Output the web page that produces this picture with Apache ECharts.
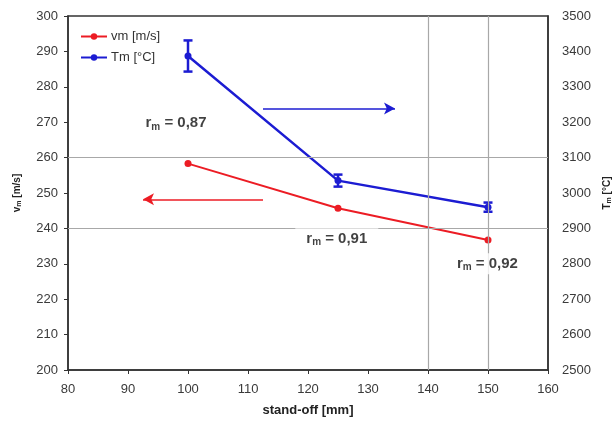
<!DOCTYPE html>
<html><head><meta charset="utf-8">
<script src="https://cdn.jsdelivr.net/npm/echarts@6/dist/echarts.min.js"></script>
<style>html,body{margin:0;padding:0;background:#fff}#c{width:616px;height:430px}</style>
</head><body><div id="c"></div>
<script>
const standOff = [100, 125, 150];
const vmValues = [258.3, 245.7, 236.7];
const tmValues = [3387, 3035, 2960];
const tmErrors = [44, 17, 13];
const xTicks = {min: 80, max: 160, interval: 10};
const vmTicks = {min: 200, max: 300, interval: 10};
const tmTicks = {min: 2500, max: 3500, interval: 100};
const gridX = [140, 150];
const gridY = [240, 260];
const rLabels = [
  {x: 98, y: 269.7, text: '0,87'},
  {x: 124.8, y: 237.1, text: '0,91'},
  {x: 149.9, y: 230, text: '0,92'}
];
const blueArrow = [[112.5, 3239], [134.5, 3239]];
const redArrow = [[112.5, 248.2], [92.5, 248.2]];

const RED = '#ec1c24', BLUE = '#1c1cd2', AX = '#333';
const font = 'Liberation Sans, Arial, sans-serif';
const chart = echarts.init(document.getElementById('c'));
const tickLabel = {color: '#3a3a3a', fontSize: 13, fontFamily: font};

chart.setOption({
  animation: false,
  textStyle: {fontFamily: font},
  grid: {left: 68, right: 68, top: 16, bottom: 60, show: true, borderColor: AX, borderWidth: 1.5, outerBoundsMode: 'none', containLabel: false},
  legend: {
    orient: 'vertical', left: 75, top: 25, itemWidth: 26, itemHeight: 8, itemGap: 8,
    textStyle: {fontSize: 13, color: '#333', fontFamily: font, padding: [0,0,0,-1]},
    data: ['vm [m/s]', 'Tm [°C]']
  },
  xAxis: {
    type: 'value', ...xTicks,
    name: 'stand-off [mm]', nameLocation: 'middle', nameGap: 34,
    nameTextStyle: {fontWeight: 'bold', fontSize: 13, color: '#222', fontFamily: font},
    axisLine: {lineStyle: {color: AX, width: 1.5}},
    axisTick: {show: true, inside: false, length: 4, lineStyle: {color: AX}},
    axisLabel: {...tickLabel, margin: 13},
    splitLine: {show: false}
  },
  yAxis: [{
    type: 'value', ...vmTicks, position: 'left',
    name: '{a|v}{s|m}{a| [m/s]}', nameLocation: 'middle', nameGap: 45, nameRotate: 90,
    nameTextStyle: {rich: {a: {fontWeight: 'bold', fontSize: 10, color: '#222', fontFamily: font}, s: {fontWeight: 'bold', fontSize: 7, color: '#222', verticalAlign: 'bottom', padding: [4,0,0,0], fontFamily: font}}},
    axisLine: {show: true, lineStyle: {color: AX, width: 1.5}},
    axisTick: {show: true, inside: false, length: 4, lineStyle: {color: AX}},
    axisLabel: {...tickLabel, margin: 10},
    splitLine: {show: false}
  }, {
    type: 'value', ...tmTicks, position: 'right',
    name: '{a|T}{s|m}{a| [°C]}', nameLocation: 'middle', nameGap: 48, nameRotate: 90,
    nameTextStyle: {rich: {a: {fontWeight: 'bold', fontSize: 10, color: '#222', fontFamily: font}, s: {fontWeight: 'bold', fontSize: 7, color: '#222', verticalAlign: 'bottom', padding: [4,0,0,0], fontFamily: font}}},
    axisLine: {show: true, lineStyle: {color: AX, width: 1.5}},
    axisTick: {show: false},
    axisLabel: {...tickLabel, margin: 14, formatter: v => String(v)},
    splitLine: {show: false}
  }],
  series: [
    {
      type: 'line', name: 'grid', silent: true, data: [], z: 1,
      markLine: {silent: true, symbol: ['none', 'none'], label: {show: false},
        lineStyle: {color: '#a8a8a8', width: 1.2, type: 'solid'},
        data: [...gridX.map(v => ({xAxis: v})), ...gridY.map(v => ({yAxis: v}))]}
    },
    {
      type: 'line', name: 'vm [m/s]', yAxisIndex: 0, z: 3,
      data: standOff.map((x, i) => [x, vmValues[i]]),
      color: RED, lineStyle: {color: RED, width: 2}, symbol: 'circle', symbolSize: 7,
      itemStyle: {color: RED},
      markLine: {silent: true, symbol: ['none', 'arrow'], symbolSize: [9, 11], label: {show: false},
        lineStyle: {color: RED, width: 1.5, type: 'solid'},
        data: [[{coord: redArrow[0]}, {coord: redArrow[1]}]]}
    },
    {
      type: 'line', name: 'Tm [°C]', yAxisIndex: 1, z: 3,
      data: standOff.map((x, i) => [x, tmValues[i]]),
      color: BLUE, lineStyle: {color: BLUE, width: 2.5}, symbol: 'circle', symbolSize: 7,
      itemStyle: {color: BLUE},
      markLine: {silent: true, symbol: ['none', 'arrow'], symbolSize: [9, 11], label: {show: false},
        lineStyle: {color: BLUE, width: 1.5, type: 'solid'},
        data: [[{coord: blueArrow[0]}, {coord: blueArrow[1]}]]}
    },
    {
      type: 'custom', name: 'err', yAxisIndex: 1, z: 4, silent: true,
      data: standOff.map((x, i) => [x, tmValues[i] - tmErrors[i], tmValues[i] + tmErrors[i]]),
      renderItem: function (params, api) {
        const lo = api.coord([api.value(0), api.value(1)]);
        const hi = api.coord([api.value(0), api.value(2)]);
        const w = 4.5;
        const st = {stroke: BLUE, lineWidth: 2.5};
        return {type: 'group', children: [
          {type: 'line', shape: {x1: lo[0], y1: lo[1], x2: hi[0], y2: hi[1]}, style: st},
          {type: 'line', shape: {x1: lo[0]-w, y1: lo[1], x2: lo[0]+w, y2: lo[1]}, style: st},
          {type: 'line', shape: {x1: hi[0]-w, y1: hi[1], x2: hi[0]+w, y2: hi[1]}, style: st}
        ]};
      }
    },
    {
      type: 'scatter', name: 'labels', yAxisIndex: 0, z: 5, silent: true, symbolSize: 0,
      data: rLabels.map(l => ({value: [l.x, l.y], name: l.text})),
      label: {show: true, position: 'inside', backgroundColor: '#fff', padding: [2, 11],
        formatter: p => '{a|r}{s|m}{a| = ' + p.name + '}',
        rich: {a: {fontWeight: 'bold', fontSize: 15, color: '#111', fontFamily: font},
               s: {fontWeight: 'bold', fontSize: 10, color: '#111', verticalAlign: 'bottom', padding: [7,0,0,0], fontFamily: font}}}
    }
  ]
});
</script></body></html>
